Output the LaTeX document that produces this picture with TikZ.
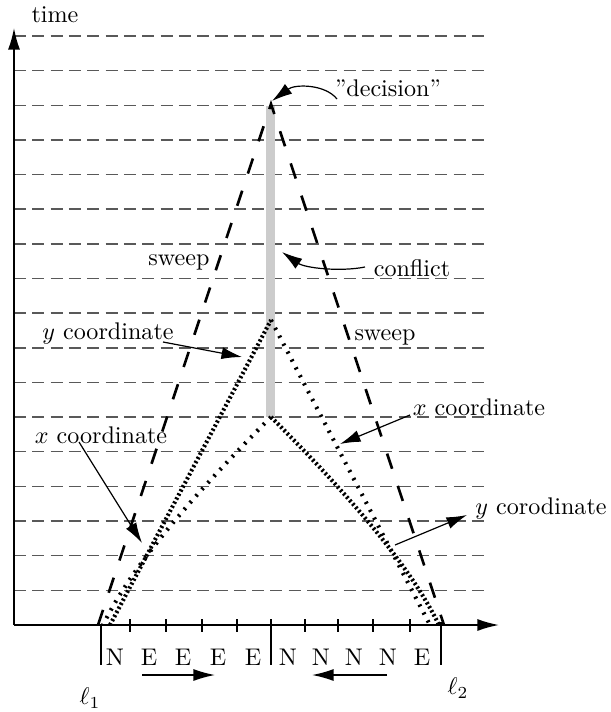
\documentclass[tikz,border=0pt]{standalone}
\usetikzlibrary{arrows.meta}
\begin{document}
\begin{tikzpicture}[x=0.415pt,y=-0.415pt,
  grid/.style={draw=black!65,line width=0.6pt,dash pattern=on 5pt off 2.6pt},
  sweepline/.style={line width=1.1pt,dash pattern=on 6.6pt off 7.5pt},
  densedot/.style={line width=1.7pt,dash pattern=on 0.9pt off 1.0pt},
  sparsedot/.style={line width=1.7pt,dash pattern=on 0.9pt off 2.8pt},
  axis/.style={line width=0.7pt,-{Latex[length=9pt,width=5pt]}},
  note/.style={line width=0.5pt,-{Latex[length=8.5pt,width=5pt]}},
  dirarrow/.style={line width=0.6pt,-{Latex[length=9pt,width=5pt]}},
  tick/.style={line width=0.5pt},
  lbl/.style={inner sep=1pt}]
\useasboundingbox (0,0) rectangle (610,712);
% grid of time steps
\foreach \k in {1,...,17} \draw[grid] (14,{625-34.65*\k}) -- (488,{625-34.65*\k});
% conflict bar
\fill[black!20] (266,106) rectangle (275,417);
% axes
\coordinate (O) at (14,625);
\coordinate (ytip) at (14,28);
\coordinate (xtip) at (499,625);
\draw[axis] (O) -- (ytip);
\draw[axis] (O) -- (xtip);
\node[lbl] (time) at (55,15) {time};
% ticks
\foreach \x in {130,166,202,237,305,338,373,410} \draw[tick] (\x,619) -- (\x,632);
\draw[tick] (101,625) -- (101,665);
\draw[tick] (271,619) -- (271,665);
\draw[tick] (441,622) -- (441,665);
% letters
\node[lbl] (c1) at (115,657) {N};
\node[lbl] (c2) at (149,657) {E};
\node[lbl] (c3) at (183,657) {E};
\node[lbl] (c4) at (218,657) {E};
\node[lbl] (c5) at (253,657) {E};
\node[lbl] (c6) at (288,657) {N};
\node[lbl] (c7) at (321,657) {N};
\node[lbl] (c8) at (354,657) {N};
\node[lbl] (c9) at (388,657) {N};
\node[lbl] (c10) at (422,657) {E};
\coordinate (ra1) at (142,675);
\coordinate (ra2) at (215,675);
\coordinate (la1) at (387,675);
\coordinate (la2) at (312,675);
\draw[dirarrow] (ra1) -- (ra2);
\draw[dirarrow] (la1) -- (la2);
\node[lbl] (l1) at (90,698) {$\ell_1$};
\node[lbl] (l2) at (458,688) {$\ell_2$};
% sweep lines
\coordinate (apex) at (271,104);
\coordinate (L1) at (98,625);
\coordinate (L2) at (444,625);
\draw[sweepline] (L1) -- (apex) -- (L2);
% dotted coordinate lines
\coordinate (up) at (271,320);
\coordinate (lo) at (271,417);
\coordinate (dL) at (110,625);
\coordinate (sL) at (103,625);
\coordinate (sR) at (430,625);
\coordinate (dR) at (439,625);
\draw[densedot] (dL) -- (up);
\draw[sparsedot] (up) -- (sR);
\draw[sparsedot] (lo) .. controls (170,518) and (125,580) .. (sL);
\draw[densedot] (lo) .. controls (372,518) and (417,580) .. (dR);
% labels
\node[lbl] (sw1) at (179,262) {sweep};
\node[lbl] (sw2) at (385,337) {sweep};
\node[lbl] (dec) at (388,88) {''decision''};
\node[lbl] (conf) at (412,268) {conflict};
\node[lbl] (ycl) at (108,333) {$y$ coordinate};
\node[lbl] (xcl) at (101,435) {$x$ coordinate};
\node[lbl] (xcr) at (479,407) {$x$ coordinate};
\node[lbl] (ycr) at (541,508) {$y$ corodinate};
% annotation arrows
\coordinate (decS) at (337,99);
\coordinate (decT) at (272,101);
\draw[note] (decS) .. controls (325,84) and (295,84) .. (decT);
\coordinate (confS) at (365,267);
\coordinate (confT) at (282,252);
\draw[note] (confS) .. controls (340,272) and (305,268) .. (confT);
\coordinate (yclS) at (163,342);
\coordinate (yclT) at (242,357);
\draw[note] (yclS) -- (yclT);
\coordinate (xclS) at (79,442);
\coordinate (xclT) at (142,543);
\draw[note] (xclS) -- (xclT);
\coordinate (xcrS) at (410,415);
\coordinate (xcrT) at (340,444);
\draw[note] (xcrS) -- (xcrT);
\coordinate (ycrS) at (395,545);
\coordinate (ycrT) at (467,515);
\draw[note] (ycrS) -- (ycrT);
\end{tikzpicture}
\end{document}
